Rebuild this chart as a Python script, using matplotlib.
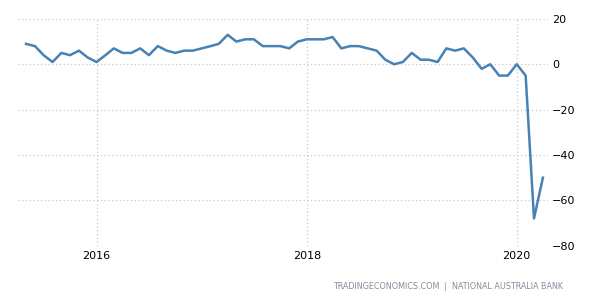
import matplotlib
matplotlib.use("Agg")
import matplotlib.pyplot as plt
import pandas as pd

start_month = "2015-05-01"
values = [9, 8, 4, 1, 5, 4, 6, 3,
          1, 4, 7, 5, 5, 7, 4, 8, 6, 5, 6, 6,
          7, 8, 9, 13, 10, 11, 11, 8, 8, 8, 7, 10,
          11, 11, 11, 12, 7, 8, 8, 7, 6, 2, 0, 1,
          5, 2, 2, 1, 7, 6, 7, 3, -2, 0, -5, -5,
          0, -5, -68, -50]
dates = pd.date_range(start_month, periods=len(values), freq="MS")
yticks = [20, 0, -20, -40, -60, -80]
xtick_years = [2016, 2018, 2020]
source = "TRADINGECONOMICS.COM  |  NATIONAL AUSTRALIA BANK"

plt.rcParams['font.family'] = ['DejaVu Sans']
fig = plt.figure(figsize=(6, 3), dpi=100)
ax = fig.add_axes([0.03, 0.181, 0.883, 0.756])
ax.plot(dates, values, color="#4682B4", lw=1.8, solid_joinstyle="round")

ax.set_ylim(-80, 20)
ax.set_xlim(pd.Timestamp("2015-04-03"), pd.Timestamp("2020-04-18"))
ax.set_yticks(yticks)
ax.set_xticks([pd.Timestamp(f"{y}-01-01") for y in xtick_years])
ax.set_xticklabels([str(y) for y in xtick_years])
ax.yaxis.tick_right()
ax.tick_params(axis="both", length=0, labelsize=8, colors="black", pad=4)
ax.tick_params(axis="y", pad=3)
ax.grid(True, color="#c8c8c8", linestyle=(0, (1, 2)), lw=0.9)
for s in ax.spines.values():
    s.set_visible(False)

fig.text(0.938, 0.045, source, ha="right", va="center", fontsize=5.8, color="#8a8a9a")
fig.savefig("out.png", dpi=100)
